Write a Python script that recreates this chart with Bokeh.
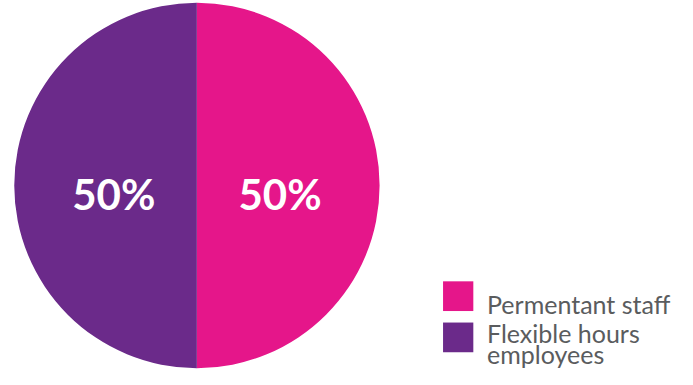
import math
from bokeh.plotting import figure
from bokeh.models import Range1d, ColumnDataSource
from bokeh.core.properties import value
from bokeh.embed import file_html
from bokeh.resources import INLINE

categories = ["Permentant staff", "Flexible hours employees"]
legend_lines = [["Permentant staff"], ["Flexible hours", "employees"]]
shares = [50, 50]
colors = ["#E5168A", "#6B2A8A"]

W, H = 677, 369          # figure size in pixels
RW, RH = 693, 385        # reference layout space
p = figure(width=W, height=H, output_backend="svg", toolbar_location=None,
           x_range=Range1d(0, RW), y_range=Range1d(0, RH),
           min_border=0, outline_line_color=None)
p.axis.visible = False
p.grid.visible = False
p.background_fill_color = None
p.border_fill_color = None

def ry(y):
    return RH - y

cx, cy, r = 201, ry(193), 187
total = sum(shares)
start = math.pi / 2
starts, ends, lx, ly, labels = [], [], [], [], []
for v in shares:
    ang = 2 * math.pi * v / total
    s, e = start - ang, start
    starts.append(s)
    ends.append(e)
    mid = (s + e) / 2
    lx.append(cx + 0.455 * r * math.cos(mid))
    ly.append(ry(202))
    labels.append(f"{v}%")
    start = s

src = ColumnDataSource(dict(start=starts, end=ends, color=colors))
p.wedge(x=cx, y=cy, radius=r, start_angle="start", end_angle="end",
        fill_color="color", line_color=None, source=src)

p.text(x=lx, y=ly, text=labels, text_font=value("Lato"),
       text_font_style="bold", text_font_size="42px", text_color="white",
       text_align="center", text_baseline="alphabetic")

# legend
sq_tops = [293, 336]
sq_left = 453
sq = 31
for i, (lines, col) in enumerate(zip(legend_lines, colors)):
    top = sq_tops[i]
    p.rect(x=sq_left + sq / 2, y=ry(top + sq / 2), width=sq, height=sq,
           fill_color=col, line_color=None)
    base = 317 if i == 0 else 347
    for j, t in enumerate(lines):
        p.text(x=[498], y=[ry(base + 22 * j)], text=[t],
               text_font=value("Lato"), text_font_size="25px",
               text_color="#5A5C5E", text_align="left",
               text_baseline="alphabetic")

open("out.html", "w").write(file_html(p, INLINE))
